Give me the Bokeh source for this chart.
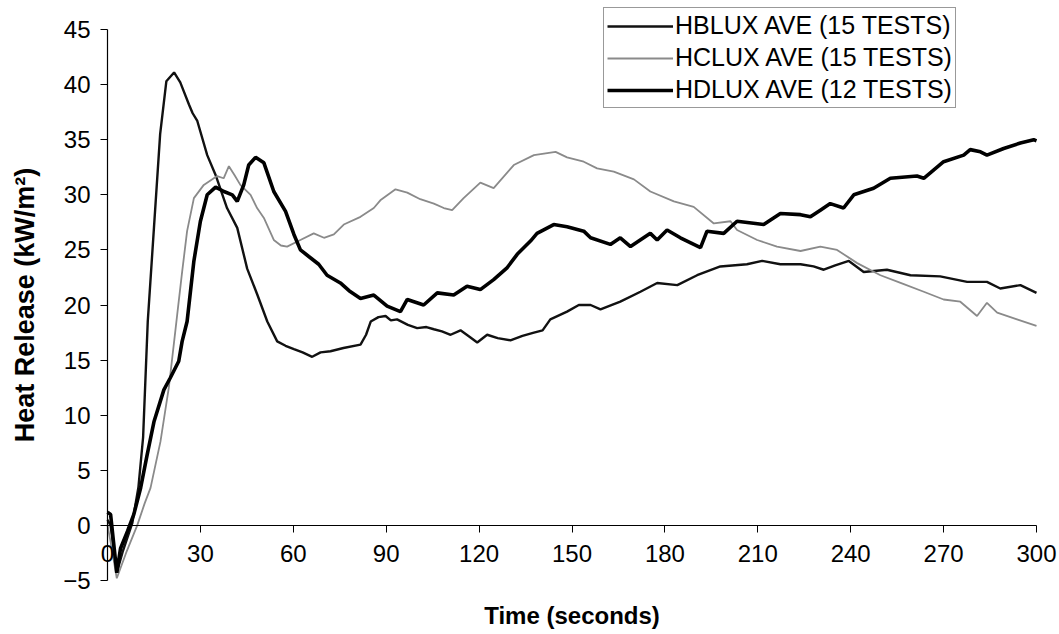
from bokeh.plotting import figure
from bokeh.models import FixedTicker, Range1d
from bokeh.embed import file_html
from bokeh.resources import INLINE

# ---- data ----
hb_t = [0, 1, 3, 5, 8, 10, 11.5, 13, 15, 17, 19, 21.5, 23.5, 26.3, 27.5, 29, 32.2, 34.9, 38.6, 41.9,
        45.1, 48.3, 51.6, 54.8, 57.5, 60.2, 63, 66.1, 68.8, 72, 76.2, 81.7, 83.5, 85, 87.5, 89.8,
        91.5, 93.5, 97, 100, 103, 105.4, 108, 110.8, 114, 117, 119.4, 122.6, 126, 130.1, 134,
        137.7, 140.5, 143, 148.4, 152.2, 156, 159.2, 165.6, 172.1, 177.5, 184, 190.4, 197.9,
        206.5, 211.4, 217.3, 223.8, 228, 231.3, 235, 239.4, 244.2, 251.7, 259.3, 268.9, 277.6,
        284, 288.3, 294.8, 300]
hb_v = [0.5, 0.0, -4.3, -2.3, 0.2, 3.5, 8.0, 18.5, 27.0, 35.5, 40.3, 41.1, 40.2, 38.2, 37.4, 36.7,
        33.6, 31.8, 28.8, 27.0, 23.3, 21.0, 18.5, 16.7, 16.3, 16.0, 15.7, 15.3, 15.7, 15.8, 16.1,
        16.4, 17.3, 18.5, 18.9, 19.0, 18.6, 18.7, 18.2, 17.9, 18.0, 17.8, 17.6, 17.3, 17.7, 17.1,
        16.6, 17.3, 17.0, 16.8, 17.2, 17.5, 17.7, 18.7, 19.4, 20.0, 20.0, 19.6, 20.3, 21.2, 22.0,
        21.8, 22.7, 23.5, 23.7, 24.0, 23.7, 23.7, 23.5, 23.2, 23.6, 24.0, 23.0, 23.2, 22.7, 22.6,
        22.1, 22.1, 21.5, 21.8, 21.1]

hc_t = [0, 1, 3, 6, 9.6, 12, 13.9, 17.1, 19.8, 21.4, 22.5, 24.1, 25.7, 27.9, 31.1, 35.4, 37.5, 39.2,
        41, 42.9, 46.2, 48.3, 50.5, 53.7, 56, 58, 62.3, 66.6, 69.9, 73.1, 76.3, 81.7, 86, 88.1, 93,
        96.8, 101, 105.4, 108.6, 111.3, 115, 120.4, 124.7, 131.2, 137.7, 144.7, 148.4, 153.8,
        158.1, 163.5, 170, 175.3, 182.9, 189.3, 195.8, 201.2, 203.3, 209.8, 216.2, 223.8, 230.2,
        235.6, 242.1, 249.6, 256.1, 263.6, 270, 275.4, 280.8, 284, 287.3, 293.7, 300]
hc_v = [0.0, -1.5, -4.8, -2.5, 0.0, 2.0, 3.4, 7.6, 12.5, 16.4, 19.1, 23.0, 26.7, 29.7, 30.9, 31.7,
        31.5, 32.6, 31.8, 30.9, 30.0, 28.8, 27.9, 25.9, 25.4, 25.3, 25.9, 26.5, 26.1, 26.4, 27.3,
        28.0, 28.8, 29.5, 30.5, 30.2, 29.6, 29.2, 28.8, 28.6, 29.7, 31.1, 30.6, 32.7, 33.6, 33.9,
        33.4, 33.0, 32.4, 32.1, 31.4, 30.3, 29.4, 28.9, 27.4, 27.6, 26.8, 25.9, 25.3, 24.9, 25.3,
        25.0, 23.8, 22.7, 22.0, 21.2, 20.5, 20.3, 19.0, 20.2, 19.3, 18.7, 18.1]

hd_t = [0, 1, 3, 4.2, 6.5, 8.5, 10.7, 12.8, 15, 18.2, 20.3, 23, 24.1, 25.7, 27.9, 30, 32.2, 34.9,
        37.6, 40.3, 41.9, 44, 45.6, 47.8, 50.5, 53.7, 57.5, 60.2, 62.3, 65, 68.2, 70.9, 75.2, 78,
        81.7, 86, 90.3, 94.6, 96.8, 102.1, 106.5, 111.8, 116.1, 120.4, 124.7, 129.1, 132.3, 136.6,
        138.7, 144.1, 148.4, 153.8, 156, 162.4, 165.6, 168.9, 175.3, 177.5, 180.7, 185, 191.5,
        193.6, 199, 203.3, 211.9, 217.3, 223.8, 227, 230.2, 233.4, 237.7, 241, 247.4, 252.8,
        261.4, 263.6, 270, 276.5, 278.6, 281.9, 284, 289.4, 294.8, 299.1, 300]
hd_v = [1.2, 1.0, -4.3, -2.1, -0.5, 1.0, 3.4, 6.4, 9.4, 12.3, 13.4, 14.9, 16.7, 18.5, 24.0, 27.6,
        30.0, 30.7, 30.3, 30.0, 29.4, 30.9, 32.7, 33.4, 32.9, 30.3, 28.5, 26.4, 25.0, 24.4, 23.7,
        22.7, 22.0, 21.3, 20.6, 20.9, 19.9, 19.4, 20.5, 20.0, 21.1, 20.9, 21.7, 21.4, 22.3, 23.4,
        24.6, 25.8, 26.5, 27.3, 27.1, 26.7, 26.1, 25.5, 26.1, 25.3, 26.5, 25.9, 26.8, 26.1, 25.2,
        26.7, 26.5, 27.6, 27.3, 28.3, 28.2, 28.0, 28.6, 29.2, 28.8, 30.0, 30.6, 31.5, 31.7, 31.5,
        33.0, 33.6, 34.1, 33.9, 33.6, 34.2, 34.7, 35.0, 34.9]

series_names = ["HBLUX AVE (15 TESTS)", "HCLUX AVE (15 TESTS)", "HDLUX AVE (12 TESTS)"]
x_ticks = [0, 30, 60, 90, 120, 150, 180, 210, 240, 270, 300]
y_ticks = [-5, 0, 5, 10, 15, 20, 25, 30, 35, 40, 45]
x_bounds = (0, 300)
y_bounds = (-5, 45)

FONT = "Liberation Sans"
W, H = 1059, 634
# pixel geometry of the data area inside the canvas
X0_PX, X300_PX = 107.0, 1036.0
Y45_PX, YM5_PX = 29.0, 580.0
sx = (X300_PX - X0_PX) / 300.0
sy = (YM5_PX - Y45_PX) / 50.0
x_start = -X0_PX / sx
x_end = 300 + (W - X300_PX) / sx
y_end = 45 + Y45_PX / sy
y_start = -5 - (H - YM5_PX) / sy

p = figure(width=W, height=H, output_backend="svg", toolbar_location=None,
           x_range=Range1d(x_start, x_end), y_range=Range1d(y_start, y_end),
           min_border=0, min_border_left=0, min_border_right=0,
           min_border_top=0, min_border_bottom=0)
p.outline_line_color = None
p.grid.visible = False
p.background_fill_color = "white"
p.border_fill_color = "white"

p.line(hb_t, hb_v, line_color="#111111", line_width=2.4, legend_label=series_names[0])
p.line(hc_t, hc_v, line_color="#8a8a8a", line_width=1.8, legend_label=series_names[1])
p.line(hd_t, hd_v, line_color="#000000", line_width=3.6, legend_label=series_names[2])

# x axis crossing at y = 0
xa = p.xaxis[0]
xa.fixed_location = 0
xa.bounds = x_bounds
xa.ticker = FixedTicker(ticks=x_ticks)
xa.minor_tick_line_color = None
xa.major_tick_in = 0
xa.major_tick_out = 7
xa.major_label_standoff = 13
xa.major_label_text_font = FONT
xa.major_label_text_font_size = "24px"
xa.major_label_text_color = "black"
xa.axis_line_color = "black"
xa.axis_line_width = 1.2
xa.major_tick_line_color = "black"
xa.axis_label = "Time (seconds)"
xa.axis_label_standoff = 36
xa.axis_label_text_font = FONT
xa.axis_label_text_font_size = "24px"
xa.axis_label_text_font_style = "bold"
xa.axis_label_text_color = "black"

# y axis at x = 0
ya = p.yaxis[0]
ya.fixed_location = 0
ya.bounds = y_bounds
ya.ticker = FixedTicker(ticks=y_ticks)
ya.minor_tick_line_color = None
ya.major_tick_in = 0
ya.major_tick_out = 7
ya.major_label_standoff = 10
ya.major_label_text_font = FONT
ya.major_label_text_font_size = "24px"
ya.major_label_text_color = "black"
ya.axis_line_color = "black"
ya.axis_line_width = 1.2
ya.major_tick_line_color = "black"
ya.axis_label = "Heat Release (kW/m²)"
ya.axis_label_standoff = 20
ya.axis_label_text_font = FONT
ya.axis_label_text_font_size = "27px"
ya.axis_label_text_font_style = "bold"
ya.axis_label_text_color = "black"

lg = p.legend[0]
lg.location = (603, H - 108)
lg.padding = 3
lg.spacing = 3
lg.margin = 0
lg.glyph_width = 66
lg.glyph_height = 26
lg.label_height = 26
lg.label_standoff = 2
lg.label_text_font = FONT
lg.label_text_font_size = "25px"
lg.label_text_color = "black"
lg.border_line_color = "#333333"
lg.border_line_width = 1
lg.background_fill_color = "white"
lg.background_fill_alpha = 1.0

open("out.html", "w").write(file_html(p, INLINE))
